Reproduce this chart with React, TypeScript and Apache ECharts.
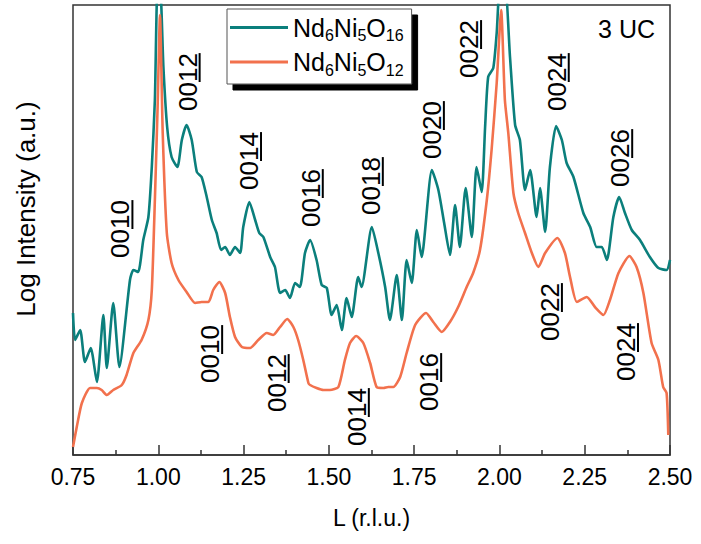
import React, { useEffect, useRef } from "react";
import * as echarts from "echarts";

const FONT = "'Liberation Sans', Arial, sans-serif";
const TEAL = "#0b7f7c";
const ORANGE = "#f2714d";

const seriesNames = ["Nd6Ni5O16", "Nd6Ni5O12"];
const legendRich = ["{a|Nd}{s|6}{a|Ni}{s|5}{a|O}{s|16}", "{a|Nd}{s|6}{a|Ni}{s|5}{a|O}{s|12}"];

const xTicks = [0.75, 1.0, 1.25, 1.5, 1.75, 2.0, 2.25, 2.5];

const tealL = [0.750,0.756,0.771,0.785,0.802,0.820,0.839,0.849,0.868,0.886,0.917,0.927,0.941,0.956,0.971,0.981,0.990,0.998,1.005,1.015,1.026,1.039,1.056,1.069,1.083,1.098,1.113,1.127,1.142,1.157,1.171,1.184,1.196,1.210,1.225,1.240,1.249,1.267,1.284,1.296,1.308,1.328,1.342,1.357,1.372,1.386,1.401,1.415,1.430,1.445,1.464,1.479,1.494,1.508,1.523,1.538,1.552,1.567,1.586,1.596,1.626,1.645,1.665,1.679,1.699,1.714,1.728,1.743,1.758,1.772,1.802,1.821,1.838,1.855,1.870,1.884,1.901,1.919,1.933,1.948,1.958,1.967,1.982,1.992,2.002,2.016,2.031,2.046,2.060,2.075,2.090,2.109,2.119,2.134,2.148,2.166,2.183,2.197,2.217,2.246,2.266,2.285,2.300,2.315,2.334,2.351,2.368,2.388,2.412,2.441,2.466,2.490,2.500];
const tealI = [142,115,125,93,107,73,140,87,152,88,175,185,183,215,238,288,355,470,470,388,328,298,288,315,330,315,283,278,258,235,222,205,208,200,208,202,228,253,235,222,218,198,188,162,165,157,172,168,202,215,195,170,167,140,150,125,157,138,178,168,228,202,168,135,180,135,195,172,225,198,285,265,232,200,250,208,267,218,288,263,328,378,387,422,470,470,398,330,315,265,285,238,267,223,288,329,315,292,278,242,228,208,208,195,238,258,242,225,215,198,187,185,195];

const orangeL = [0.750,0.761,0.776,0.800,0.820,0.834,0.849,0.868,0.893,0.907,0.927,0.951,0.971,0.981,0.990,0.998,1.005,1.013,1.025,1.039,1.059,1.083,1.108,1.127,1.147,1.161,1.179,1.196,1.210,1.225,1.245,1.269,1.293,1.318,1.337,1.357,1.378,1.396,1.410,1.425,1.440,1.445,1.464,1.484,1.503,1.528,1.547,1.562,1.580,1.601,1.621,1.640,1.660,1.674,1.689,1.709,1.728,1.753,1.785,1.806,1.831,1.855,1.879,1.904,1.923,1.943,1.963,1.977,1.992,2.005,2.016,2.026,2.041,2.055,2.075,2.095,2.114,2.134,2.170,2.192,2.207,2.227,2.256,2.280,2.305,2.324,2.349,2.381,2.402,2.422,2.446,2.466,2.480,2.490,2.495];
const orangeI = [8,28,52,67,67,65,60,65,70,80,102,115,135,165,255,348,440,322,222,192,175,163,152,153,153,165,173,162,138,118,108,107,115,122,120,128,136,128,115,95,72,70,67,65,65,68,95,112,119,112,92,68,67,68,68,78,102,130,142,133,123,133,148,168,182,205,255,305,372,445,355,322,262,242,222,202,188,202,217,202,178,153,158,148,140,155,182,199,188,162,112,95,68,62,20];

// peak annotations: text, L position, intensity position (label centre)
const annText = ["0010","0012","0014","0016","0018","0020","0022","0024","0026","0010","0012","0014","0016","0022","0024"];
const annL = [0.889,1.086,1.266,1.447,1.623,1.802,1.911,2.168,2.354,1.152,1.347,1.582,1.794,2.148,2.371];
const annI = [226,373,294,257,269,325,406,373,297,101,72,38,73,143,103];

export default function App() {
  const ref = useRef<HTMLDivElement>(null);
  useEffect(() => {
    if (!ref.current) return;
    const chart = echarts.init(ref.current, undefined, { renderer: "svg" });
    const tealData = tealL.map((l, i) => [l, tealI[i]]);
    const orangeData = orangeL.map((l, i) => [l, orangeI[i]]);
    chart.setOption({
      animation: false,
      grid: { left: 73, right: 31, top: 5, bottom: 89, show: true, borderColor: "#333", borderWidth: 1.5, backgroundColor: "transparent" },
      legend: {
        left: 227, top: 9, orient: "vertical",
        padding: [6, 8, 6, 3], itemGap: 6,
        itemWidth: 58, itemHeight: 3, icon: "rect",
        backgroundColor: "#fff", borderColor: "#555", borderWidth: 1,
        shadowColor: "#000", shadowBlur: 0, shadowOffsetX: 6, shadowOffsetY: 6,
        data: seriesNames,
        formatter: (n: string) => legendRich[seriesNames.indexOf(n)],
        textStyle: {
          fontFamily: FONT, color: "#000",
          rich: {
            a: { fontSize: 25, lineHeight: 32, fontFamily: FONT, color: "#000" },
            s: { fontSize: 16, lineHeight: 14, verticalAlign: "bottom", fontFamily: FONT, color: "#000" },
          },
        },
      },
      xAxis: {
        type: "value", min: 0.75, max: 2.5, interval: 0.25,
        name: "L (r.l.u.)", nameLocation: "middle", nameGap: 51,
        nameTextStyle: { fontFamily: FONT, fontSize: 23, color: "#000" },
        axisLine: { show: true, lineStyle: { color: "#333", width: 1.5 } },
        axisTick: { show: true, inside: true, length: 10, lineStyle: { color: "#333", width: 1.5 } },
        minorTick: { show: true, splitNumber: 2, length: 5, lineStyle: { color: "#333", width: 1.5 } },
        splitLine: { show: false },
        axisLabel: {
          fontFamily: FONT, fontSize: 23, color: "#000", margin: 10,
          formatter: (v: number) => (xTicks.includes(v) ? v.toFixed(2) : ""),
        },
      },
      yAxis: {
        type: "value", min: 0, max: 450,
        name: "Log Intensity (a.u.)", nameLocation: "middle", nameGap: 34, nameRotate: 90,
        nameTextStyle: { fontFamily: FONT, fontSize: 26, color: "#000", padding: [0, 0, 0, 42] },
        axisLine: { show: false }, axisTick: { show: false }, axisLabel: { show: false }, splitLine: { show: false },
      },
      series: [
        { name: seriesNames[0], type: "line", data: tealData, showSymbol: false, symbol: "none", smooth: 0.2, clip: true, lineStyle: { color: TEAL, width: 2.6 }, itemStyle: { color: TEAL } },
        { name: seriesNames[1], type: "line", data: orangeData, showSymbol: false, symbol: "none", smooth: 0.2, clip: true, lineStyle: { color: ORANGE, width: 2.6 }, itemStyle: { color: ORANGE } },
      ],
    });
    const fs = 26;
    const w = 4 * 0.556 * fs;
    const groups = annText.map((t, i) => {
      const p = chart.convertToPixel({ gridIndex: 0 }, [annL[i], annI[i]]) as number[];
      return {
        type: "group", x: p[0], y: p[1], rotation: Math.PI / 2,
        children: [
          { type: "text", style: { text: t, x: 0, y: 0, align: "center", verticalAlign: "middle", fontFamily: FONT, fontSize: fs, fill: "#000" } },
          { type: "line", shape: { x1: 0, y1: 12, x2: w / 2, y2: 12 }, style: { stroke: "#000", lineWidth: 2 } },
        ],
      };
    });
    chart.setOption({
      graphic: [
        ...groups,
        { type: "text", right: 46, top: 16, style: { text: "3 UC", fontFamily: FONT, fontSize: 25, fill: "#000" } },
      ],
    });
    return () => chart.dispose();
  }, []);
  return <div ref={ref} style={{ width: 701, height: 544, position: "absolute", left: 0, top: 0 }} />;
}
